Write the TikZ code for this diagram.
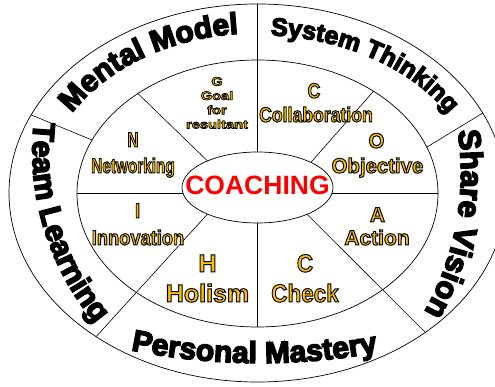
\documentclass[tikz,border=0pt]{standalone}
\usepackage{fontspec}
\usetikzlibrary{calc,decorations.text}
\newfontfamily\heavyfont{Liberation Sans}[BoldFeatures={FakeBold=5}]
\newfontfamily\goldfont{Liberation Sans}
\definecolor{gold}{RGB}{255,192,0}
\newcommand{\outlined}[2][1]{\special{pdf:literal direct 0 0 0 RG #1 w 2 Tr}#2\special{pdf:literal direct 0 Tr}}
\newcommand{\ringfont}[1]{\heavyfont\bfseries\fontsize{#1}{#1}\selectfont}
\tikzset{%
	ring/.style     = {draw, line width=0.7pt}, % ellipse
	spoke/.style    = {draw, line width=0.6pt}, % divider
	goldword/.style = {text=gold, anchor=base, inner sep=0pt, font=\goldfont\bfseries\fontsize{#1}{#1}\selectfont}, % gold label
	goldword/.default = 21,
	hub/.style      = {text=red, anchor=base, inner sep=0pt, font=\goldfont\bfseries\fontsize{26.5}{26.5}\selectfont}, % centre label
	arcword/.style  = {decorate, decoration={text along path, text align=center, text={#1}}}, % curved label
}
\begin{document}
\begin{tikzpicture}[x=1pt,y=1pt]
	\useasboundingbox[fill=white] (0,0) rectangle (495,387);
	\coordinate (outerc) at (257.5,194);
	\coordinate (midc) at (257.5,193.5);
	\coordinate (hubc) at (257.5,199.5);
	
	% points on the ellipses
	\foreach \n/\a in {ne/45,n/90,nw/131.5,w/189.7,sw/228.5,s/270,se/311,e/350.3}
		\coordinate (h\n) at ($(hubc)+(\a:75.5 and 35.5)$);
	\foreach \n/\a in {ne/50,n/90,nw/131.5,w/180,s/270,e/0,lw/156.4,re/20.3}
		\coordinate (m\n) at ($(midc)+(\a:180.5 and 133.5)$);
	\foreach \n/\a in {n/90,sw/229.5,se/312.5,lw/155.6,re/25}
		\coordinate (o\n) at ($(outerc)+(\a:248.5 and 189)$);
	
	\draw[spoke] (hn) -- (mn) -- (on);
	\draw[spoke] (hnw) -- (mnw);
	\draw[spoke] (hne) -- (mne);
	\draw[spoke] (hw) -- (mw);
	\draw[spoke] (he) -- (me);
	\draw[spoke] (hs) -- (ms);
	\draw[spoke] (hsw) -- (osw);
	\draw[spoke] (hse) -- (ose);
	\draw[spoke] (mlw) -- (olw);
	\draw[spoke] (mre) -- (ore);
	
	\draw[ring] (outerc) ellipse [x radius=248.5, y radius=189];
	\draw[ring] (midc) ellipse [x radius=180.5, y radius=133.5];
	\draw[ring] (hubc) ellipse [x radius=75.5, y radius=35.5];
	
	\node[hub] (coaching) at (257.5,192) {COACHING};
	
	% inner ring
	\node[goldword=12, anchor=north, align=center, xscale=1.22, font=\goldfont\bfseries\fontsize{12}{14.3}\selectfont] (goal) at (217,310) {\outlined[0.7]{G\\Goal\\for\\resultant}};
	\node[goldword, xscale=0.73] (nlet) at (133,240) {\outlined{N}};
	\node[goldword, xscale=0.73] (networking) at (133,214) {\outlined{Networking}};
	\node[goldword, xscale=0.84] (clet) at (314,289) {\outlined{C}};
	\node[goldword, xscale=0.84] (collab) at (316,265) {\outlined{Collaboration}};
	\node[goldword, xscale=0.97] (olet) at (376.5,239) {\outlined{O}};
	\node[goldword, xscale=0.97] (objective) at (377.5,214) {\outlined{Objective}};
	\node[goldword, xscale=0.87] (ilet) at (137.5,169) {\outlined{I}};
	\node[goldword, xscale=0.87] (innovation) at (138,142) {\outlined{Innovation}};
	\node[goldword=25] (hlet) at (207.5,115) {\outlined{H}};
	\node[goldword=25] (holism) at (207.5,85) {\outlined{Holism}};
	\node[goldword=25, xscale=0.9] (cklet) at (305,115) {\outlined{C}};
	\node[goldword=25, xscale=0.9] (check) at (305,85) {\outlined{Check}};
	\node[goldword] (alet) at (377.5,165) {\outlined{A}};
	\node[goldword] (action) at (377,142) {\outlined{Action}};
	
	% outer ring
	\coordinate (sharec) at (180,214);
	\coordinate (teamc) at (300,236);
	\coordinate (masteryc) at (260,680);
	\path[arcword={|\ringfont{30}|Mental Model}] ($(outerc)+(172:214 and 160)$) arc[start angle=172, end angle=78, x radius=214, y radius=160];
	\path[arcword={|\ringfont{25}|System Thinking}] ($(outerc)+(98:220 and 158)$) arc[start angle=98, end angle=15, x radius=220, y radius=158];
	\path[arcword={|\ringfont{31}|Share Vision}] ($(sharec)+(25:281)$) arc[start angle=25, end angle=-46, radius=281];
	\path[arcword={|\ringfont{30.5}|Team Learning}] ($(teamc)+(157:267.5)$) arc[start angle=157, end angle=237, radius=267.5];
	\path[arcword={|\ringfont{30}|Personal Mastery}] ($(masteryc)+(250:656)$) arc[start angle=250, end angle=289, radius=656];
\end{tikzpicture}
\end{document}
